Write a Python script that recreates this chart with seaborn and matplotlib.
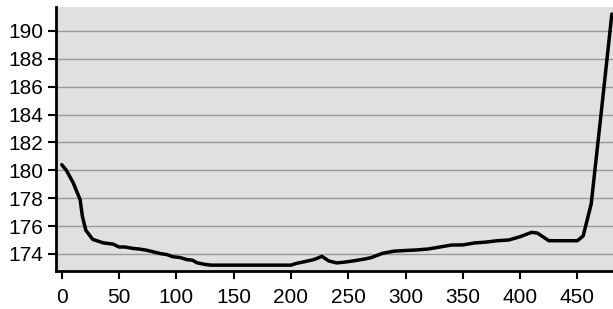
import numpy as np
import pandas as pd
import matplotlib
matplotlib.use('Agg')
import matplotlib.pyplot as plt
import seaborn as sns

# values
x_vals = [0, 4, 10, 16, 18, 21, 27, 36, 45, 50, 55, 62, 68, 74, 80, 86, 92, 97,
          103, 109, 114, 118, 125, 130, 140, 150, 160, 170, 180, 190, 200, 205,
          212, 220, 227, 233, 240, 245, 250, 258, 265, 270, 280, 290, 300, 310,
          320, 330, 340, 350, 360, 370, 380, 390, 400, 410, 415, 425, 435, 445,
          450, 455, 462, 470, 475, 480]
y_vals = [180.4, 180.0, 179.1, 177.9, 176.7, 175.7, 175.05, 174.8, 174.7, 174.5,
          174.5, 174.4, 174.35, 174.27, 174.15, 174.03, 173.95, 173.8, 173.75,
          173.6, 173.55, 173.37, 173.25, 173.2, 173.2, 173.2, 173.2, 173.2,
          173.2, 173.2, 173.2, 173.33, 173.45, 173.6, 173.83, 173.5, 173.36,
          173.4, 173.45, 173.55, 173.65, 173.74, 174.05, 174.2, 174.25, 174.29,
          174.36, 174.5, 174.64, 174.65, 174.79, 174.85, 174.95, 175.0, 175.24,
          175.55, 175.5, 174.95, 174.95, 174.95, 174.95, 175.3, 177.6, 183.6,
          187.4, 191.2]
x_ticks = [0, 50, 100, 150, 200, 250, 300, 350, 400, 450]
y_ticks = [174, 176, 178, 180, 182, 184, 186, 188, 190]

df = pd.DataFrame({'x': x_vals, 'y': y_vals})

sns.set_style('white')
plt.rcParams['font.family'] = ['Liberation Sans', 'DejaVu Sans']

fig = plt.figure(figsize=(6.13, 3.09), dpi=100)
ax = fig.add_axes([0.0914, 0.123, 0.9086, 0.854])
ax.set_facecolor('#e0e0e0')

sns.lineplot(data=df, x='x', y='y', ax=ax, color='black', linewidth=2.5)

ax.set_xlim(-5, 481)
ax.set_ylim(172.78, 191.7)
ax.set_xticks(x_ticks)
ax.set_yticks(y_ticks)
ax.yaxis.grid(True, color='#9a9a9a', linewidth=1.0)
ax.xaxis.grid(False)
ax.set_axisbelow(True)

for s in ['top', 'right']:
    ax.spines[s].set_visible(False)
for s in ['left', 'bottom']:
    ax.spines[s].set_color('black')
    ax.spines[s].set_linewidth(2)

ax.tick_params(axis='both', direction='out', length=6, width=1.5, color='black',
               labelsize=15, labelcolor='black', left=True, bottom=True)
ax.tick_params(axis='x', pad=6)
ax.tick_params(axis='y', pad=3)
ax.set_xlabel('')
ax.set_ylabel('')

fig.savefig('out.png', dpi=100)
